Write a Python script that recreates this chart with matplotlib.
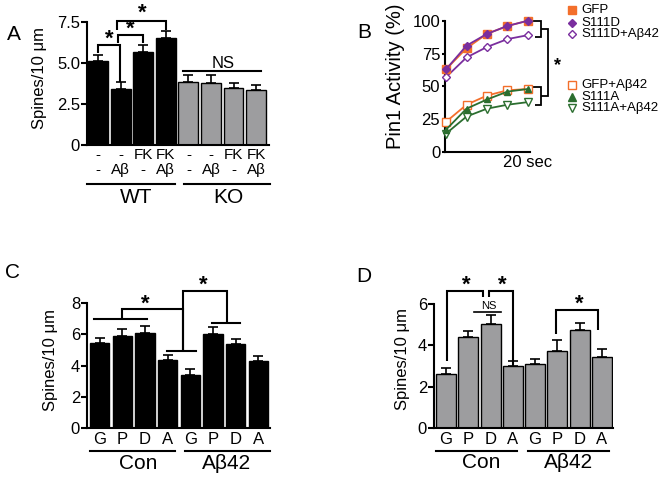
import matplotlib
matplotlib.use('Agg')
import matplotlib.pyplot as plt
import matplotlib.transforms as mtransforms
import numpy as np

plt.rcParams['font.family'] = ['Liberation Sans', 'DejaVu Sans']

W, H = 663, 483

# ---------------- data ----------------
# Panel A
a_row1 = ['-', '-', 'FK', 'FK', '-', '-', 'FK', 'FK']
a_row2 = ['-', 'Aβ', '-', 'Aβ', '-', 'Aβ', '-', 'Aβ']
a_groups = ['WT', 'KO']
a_values = [5.15, 3.4, 5.7, 6.5, 3.85, 3.8, 3.45, 3.35]
a_errors = [0.35, 0.45, 0.4, 0.45, 0.42, 0.45, 0.32, 0.33]

# Panel B
b_time = [0, 5, 10, 15, 20]
b_gfp = [63, 79, 90, 96, 100]
b_s111d = [63, 81, 90, 96, 100]
b_s111d_ab = [57, 72, 80, 86, 89]
b_gfp_ab = [23, 36, 43, 47, 48]
b_s111a = [17, 33, 40, 46, 48]
b_s111a_ab = [14, 27, 33, 36, 38]
b_names = ['GFP', 'S111D', 'S111D+Aβ42', 'GFP+Aβ42', 'S111A', 'S111A+Aβ42']

# Panel C
c_labels = ['G', 'P', 'D', 'A', 'G', 'P', 'D', 'A']
c_groups = ['Con', 'Aβ42']
c_values = [5.47, 5.9, 6.12, 4.36, 3.39, 6.0, 5.36, 4.29]
c_errors = [0.32, 0.43, 0.43, 0.32, 0.37, 0.46, 0.35, 0.35]

# Panel D
d_labels = ['G', 'P', 'D', 'A', 'G', 'P', 'D', 'A']
d_groups = ['Con', 'Aβ42']
d_values = [2.59, 4.42, 5.02, 3.0, 3.08, 3.74, 4.75, 3.45]
d_errors = [0.29, 0.28, 0.46, 0.24, 0.26, 0.52, 0.32, 0.36]

BLACK = '#000000'
GRAY = '#9d9d9f'
ORANGE = '#f36f2b'
PURPLE = '#7a2e9e'
GREEN = '#2b6e2f'

fig = plt.figure(figsize=(W / 100, H / 100), dpi=100)
fig.patch.set_facecolor('white')


def draw_bars(ax, vals, errs, colors, width):
    x = np.arange(len(vals))
    ax.bar(x, vals, width, color=colors, edgecolor='black', linewidth=1.0, zorder=2)
    ax.errorbar(x, vals, yerr=[np.zeros(len(vals)), errs], fmt='none', ecolor='black',
                elinewidth=1.2, capsize=3.6, capthick=1.2, zorder=1)
    return x


def bracket(ax, pts, lw=1.5):
    xs = [p[0] for p in pts]
    ys = [p[1] for p in pts]
    ax.plot(xs, ys, color='black', lw=lw, clip_on=False, solid_capstyle='butt', solid_joinstyle='miter')


def star(ax, x, y, size=16):
    ax.text(x, y, '*', ha='center', va='center', fontsize=size, fontweight='bold', clip_on=False)


# ---------------- Panel A ----------------
axA = fig.add_axes([87 / W, 1 - 145 / H, 182 / W, 123 / H])
a_colors = [BLACK] * 4 + [GRAY] * 4
xa = draw_bars(axA, a_values, a_errors, a_colors, 0.88)
axA.set_xlim(-0.49, 7.57)
axA.set_ylim(0, 7.5)
for s in ['top', 'right']:
    axA.spines[s].set_visible(False)
for s in ['left', 'bottom']:
    axA.spines[s].set_linewidth(1.5)
axA.set_yticks([0, 2.5, 5.0, 7.5])
axA.set_yticklabels(['0', '2.5', '5.0', '7.5'])
axA.tick_params(axis='y', direction='out', length=4, width=1.5, labelsize=12, pad=1)
axA.set_xticks(xa)
axA.set_xticklabels([f'{r1}\n{r2}' for r1, r2 in zip(a_row1, a_row2)], linespacing=1.1)
axA.tick_params(axis='x', length=0, labelsize=11, pad=2)
axA.set_ylabel('Spines/10 μm', fontsize=12)
axA.yaxis.set_label_coords(-0.221, 0.545)
trA = mtransforms.blended_transform_factory(axA.transData, axA.transAxes)
axA.plot([-0.49, 3.41], [-0.32, -0.32], color='black', lw=1.5, transform=trA, clip_on=False)
axA.plot([3.81, 7.61], [-0.32, -0.32], color='black', lw=1.5, transform=trA, clip_on=False)
axA.text(1.67, -0.425, a_groups[0], transform=trA, ha='center', va='center', fontsize=15)
axA.text(5.75, -0.425, a_groups[1], transform=trA, ha='center', va='center', fontsize=15)
bracket(axA, [(0.0, 5.6), (0.0, 6.1), (0.976, 6.1), (0.976, 3.84)])
bracket(axA, [(0.887, 6.22), (0.887, 6.7), (1.99, 6.7), (1.99, 6.22)])
bracket(axA, [(0.843, 7.0), (0.843, 7.56), (3.01, 7.56), (3.01, 7.0)])
star(axA, 0.49, 6.45)
star(axA, 1.42, 7.05)
star(axA, 1.95, 8.05)
axA.plot([3.76, 7.21], [4.51, 4.51], color='black', lw=1.5, clip_on=False)
axA.text(5.53, 4.95, 'NS', ha='center', va='center', fontsize=12)

# ---------------- Panel B ----------------
axB = fig.add_axes([445 / W, 1 - 152 / H, 85 / W, 131.3 / H])
for s in ['top', 'right']:
    axB.spines[s].set_visible(False)
for s in ['left', 'bottom']:
    axB.spines[s].set_linewidth(1.5)
axB.set_xlim(-0.25, 20.5)
axB.set_ylim(0, 100)
axB.set_yticks([0, 25, 50, 75, 100])
axB.tick_params(axis='y', direction='out', length=2.5, width=1.5, labelsize=12, pad=1)
axB.set_xticks([20])
axB.set_xticklabels(['20 sec'])
axB.tick_params(axis='x', length=0, labelsize=12, pad=2)
axB.set_ylabel('Pin1 Activity (%)', fontsize=14.5)
axB.yaxis.set_label_coords(-0.47, 0.58)

ms = 5
series = [
    (b_gfp_ab, ORANGE, 's', 'none', ms + 0.5),
    (b_s111a_ab, GREEN, 'v', 'none', ms + 0.5),
    (b_s111a, GREEN, '^', GREEN, ms),
    (b_s111d_ab, PURPLE, 'D', 'none', ms - 0.5),
    (b_gfp, ORANGE, 's', ORANGE, ms + 0.5),
    (b_s111d, PURPLE, 'D', PURPLE, ms - 1),
]
for vals, col, mk, fc, msz in series:
    axB.plot(b_time, vals, color=col, lw=1.3, marker=mk, markersize=msz,
             markerfacecolor=(fc if fc != 'none' else 'white'), markeredgecolor=col,
             markeredgewidth=1.0, clip_on=False, zorder=3)

bracket(axB, [(21.2, 100), (23.3, 100), (23.3, 87.8), (21.7, 87.8)], lw=1.3)
bracket(axB, [(21.2, 49.7), (23.3, 49.7), (23.3, 35.8), (21.7, 35.8)], lw=1.3)
bracket(axB, [(23.3, 94.0), (24.9, 94.0), (24.9, 42.8), (23.3, 42.8)], lw=1.3)
axB.text(27.2, 66, '*', ha='center', va='center', fontsize=13, fontweight='bold', clip_on=False)

# legend (manual)
leg_items = [
    (b_names[0], ORANGE, 's', ORANGE, 108.1),
    (b_names[1], PURPLE, 'D', PURPLE, 98.2),
    (b_names[2], PURPLE, 'D', 'white', 89.9),
    (b_names[3], ORANGE, 's', 'white', 51.0),
    (b_names[4], GREEN, '^', GREEN, 41.9),
    (b_names[5], GREEN, 'v', 'white', 33.5),
]
for name, col, mk, fc, yy in leg_items:
    axB.plot([30.7], [yy], marker=mk, markersize=5.5 if mk != 'D' else 4.5, color=col,
             markerfacecolor=fc, markeredgecolor=col, markeredgewidth=1.0, clip_on=False, ls='none')
    axB.text(33.0, yy, name, ha='left', va='center', fontsize=9.5, clip_on=False)


# ---------------- Panels C & D ----------------
def panel_cd(rect, vals, errs, color, width, xlim, ylim, yticks, labels, groups,
             line_spans, group_x, ylab_coords):
    ax = fig.add_axes(rect)
    x = draw_bars(ax, vals, errs, [color] * len(vals), width)
    for s in ['top', 'right']:
        ax.spines[s].set_visible(False)
    for s in ['left', 'bottom']:
        ax.spines[s].set_linewidth(1.5)
    ax.set_xlim(*xlim)
    ax.set_ylim(*ylim)
    ax.set_yticks(yticks)
    ax.tick_params(axis='y', direction='out', length=4, width=1.5, labelsize=12, pad=1)
    ax.set_xticks(x)
    ax.set_xticklabels(labels)
    ax.tick_params(axis='x', length=0, labelsize=12, pad=3)
    ax.set_ylabel('Spines/10 μm', fontsize=12)
    ax.yaxis.set_label_coords(*ylab_coords)
    tr = mtransforms.blended_transform_factory(ax.transData, ax.transAxes)
    for (x0, x1), gx, g in zip(line_spans, group_x, groups):
        ax.plot([x0, x1], [-0.187, -0.187], color='black', lw=1.5, transform=tr, clip_on=False)
        ax.text(gx, -0.285, g, transform=tr, ha='center', va='center', fontsize=15)
    return ax


axC = panel_cd([87 / W, 1 - 427.7 / H, 183 / W, 124.4 / H], c_values, c_errors, BLACK, 0.85,
               (-0.56, 7.51), (0, 8), [0, 2, 4, 6, 8], c_labels, c_groups,
               [(-0.425, 3.32), (3.76, 7.5)], [1.69, 5.61], (-0.157, 0.544))
axC.plot([-0.235, 2.07], [6.97, 6.97], color='black', lw=1.5, clip_on=False)
bracket(axC, [(0.97, 6.97), (0.97, 7.65), (3.66, 7.65), (3.66, 4.95)])
axC.plot([2.95, 4.245], [4.95, 4.95], color='black', lw=1.5, clip_on=False)
bracket(axC, [(3.66, 4.95), (3.66, 8.79), (5.6, 8.79), (5.6, 6.75)])
axC.plot([4.94, 6.18], [6.75, 6.75], color='black', lw=1.5, clip_on=False)
star(axC, 2.0, 7.95)
star(axC, 4.57, 9.15)

axD = panel_cd([434 / W, 1 - 427.7 / H, 179 / W, 123.4 / H], d_values, d_errors, GRAY, 0.9,
               (-0.54, 7.5), (0, 6), [0, 2, 4, 6], d_labels, d_groups,
               [(-0.45, 3.17), (3.675, 7.31)], [1.6, 5.51], (-0.134, 0.557))
bracket(axD, [(0.03, 3.24), (0.03, 6.66), (1.67, 6.66), (1.67, 6.34)])
bracket(axD, [(1.94, 6.34), (1.94, 6.66), (2.99, 6.66), (2.99, 3.05)])
bracket(axD, [(4.93, 4.55), (4.93, 5.72), (6.83, 5.72), (6.83, 4.75)])
star(axD, 0.895, 6.95)
star(axD, 2.54, 6.95)
star(axD, 5.98, 6.02)
axD.plot([1.25, 2.45], [5.64, 5.64], color='black', lw=1.2, clip_on=False)
axD.text(1.9, 5.9, 'NS', ha='center', va='center', fontsize=8)

# panel letters
for letter, px, py in [('A', 14, 34), ('B', 364, 33), ('C', 12, 272), ('D', 364, 277)]:
    fig.text(px / W, 1 - py / H, letter, ha='center', va='center', fontsize=15)

fig.savefig('out.png', dpi=100, facecolor='white')
